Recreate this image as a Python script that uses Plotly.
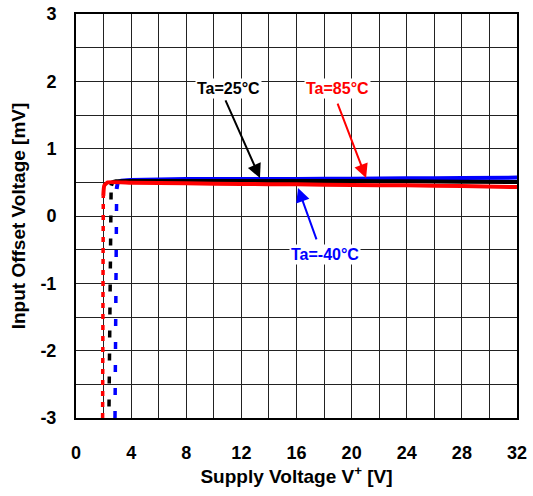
import plotly.graph_objects as go

# ---- data ----
# dashed start-up segments (x in V, y in mV)
red_dash_x = [1.93, 1.95, 1.97, 1.98]
red_dash_y = [-3.0, -1.5, -0.3, 0.30]
black_dash_x = [2.38, 2.44, 2.50, 2.55]
black_dash_y = [-3.17, -1.5, -0.3, 0.45]
blue_dash_x = [2.83, 2.87, 2.92, 2.95]
blue_dash_y = [-3.0, -1.5, -0.3, 0.40]

# solid regulated segments
red_x = [1.98, 2.05, 2.3, 4, 8, 12, 16, 20, 24, 28, 32]
red_y = [0.30, 0.45, 0.50, 0.495, 0.485, 0.475, 0.47, 0.46, 0.455, 0.445, 0.43]
black_x = [2.55, 2.65, 2.9, 4, 8, 12, 16, 20, 24, 28, 32]
black_y = [0.45, 0.50, 0.515, 0.52, 0.52, 0.52, 0.52, 0.52, 0.515, 0.51, 0.505]
blue_x = [2.95, 3.05, 3.3, 4, 8, 12, 16, 20, 24, 28, 32]
blue_y = [0.40, 0.50, 0.525, 0.535, 0.55, 0.55, 0.55, 0.555, 0.56, 0.565, 0.57]

x_ticks = [0, 4, 8, 12, 16, 20, 24, 28, 32]
y_ticks = [-3, -2, -1, 0, 1, 2, 3]
y_ticktext = ["-3", "-2", "-1", "0", "1", "2", "3"]

BLUE = "#0000ff"
BLACK = "#000000"
RED = "#ff0000"

fig = go.Figure()
for xs, ys, c, dash in [
    (blue_dash_x, blue_dash_y, BLUE, "7px,16px"),
    (black_dash_x, black_dash_y, BLACK, "7px,16px"),
    (red_dash_x, red_dash_y, RED, "5px,6px"),
]:
    fig.add_trace(go.Scatter(x=xs, y=ys, mode="lines",
                             line=dict(color=c, width=3.5, dash=dash),
                             showlegend=False, hoverinfo="skip"))
for xs, ys, c in [(blue_x, blue_y, BLUE), (black_x, black_y, BLACK), (red_x, red_y, RED)]:
    fig.add_trace(go.Scatter(x=xs, y=ys, mode="lines",
                             line=dict(color=c, width=4, shape="spline", smoothing=0.4),
                             showlegend=False, hoverinfo="skip"))

# labels and arrows
labels = [
    ("Ta=25°C", 11.1, 1.90, BLACK, 10.8, 1.74, 13.35, 0.565),
    ("Ta=85°C", 19.0, 1.90, RED, 18.94, 1.69, 21.05, 0.565),
    ("Ta=-40°C", 18.07, -0.565, BLUE, 17.49, -0.37, 16.11, 0.416),
]
for text, tx, ty, c, ax, ay, hx, hy in labels:
    fig.add_annotation(x=hx, y=hy, ax=ax, ay=ay, axref="x", ayref="y",
                       xref="x", yref="y", text="", showarrow=True,
                       arrowhead=2, arrowsize=1.4, arrowwidth=2, arrowcolor=c)
    fig.add_annotation(x=tx, y=ty, xref="x", yref="y", text=text, showarrow=False,
                       font=dict(size=16, color=c, family="Liberation Sans", weight="bold"),
                       bgcolor="white", borderpad=1)

axis_common = dict(
    showline=True, linecolor="black", linewidth=2, mirror=True,
    showgrid=True, gridcolor="#222222", gridwidth=1.2,
    zeroline=False, ticks="", automargin=False,
    tickfont=dict(size=18, color="black", family="Liberation Sans", weight="bold"),
)
fig.update_xaxes(range=[0, 32], tickvals=x_ticks, ticklabelstandoff=17,
                 minor=dict(dtick=2, showgrid=True, gridcolor="#222222", gridwidth=1.2),
                 title=dict(text="Supply Voltage V<sup>+</sup> [V]", standoff=6,
                            font=dict(size=19, color="black", family="Liberation Sans", weight="bold")),
                 **axis_common)
fig.update_yaxes(range=[-3, 3], tickvals=y_ticks, ticktext=y_ticktext, ticklabelstandoff=14,
                 minor=dict(dtick=0.5, showgrid=True, gridcolor="#222222", gridwidth=1.2),
                 title=dict(text="Input Offset Voltage [mV]", standoff=10,
                            font=dict(size=19, color="black", family="Liberation Sans", weight="bold")),
                 **axis_common)

fig.update_layout(width=533, height=496, margin=dict(l=76, r=16, t=14, b=78),
                  paper_bgcolor="white", plot_bgcolor="white",
                  font=dict(family="Liberation Sans", color="black"))
fig.write_html("out.html", config={"displayModeBar": False},
               post_script="document.body.style.margin='0';document.body.style.overflow='hidden';")
